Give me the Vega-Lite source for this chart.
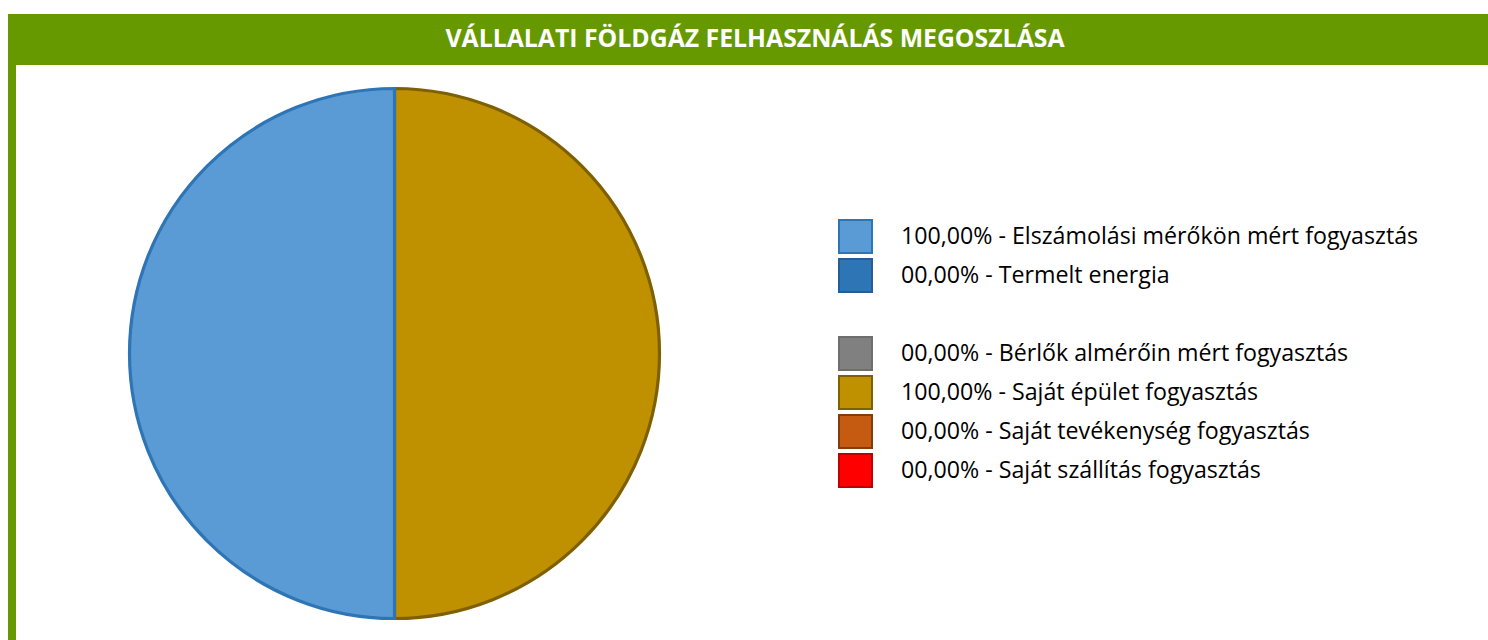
{
  "$schema": "https://vega.github.io/schema/vega-lite/v6.json",
  "padding": {"left": 8, "top": 14, "right": 0, "bottom": 0},
  "background": "white",
  "config": {"view": {"stroke": null}, "concat": {"spacing": 0}},
  "spacing": 0,
  "vconcat": [
    {
      "width": 1480,
      "height": 51,
      "view": {"fill": "#669900", "stroke": null},
      "data": {"values": [{"title": "VÁLLALATI FÖLDGÁZ FELHASZNÁLÁS MEGOSZLÁSA"}]},
      "mark": {"type": "text", "font": "Open Sans", "fontWeight": "bold", "fontSize": 24.8, "color": "white", "baseline": "middle", "align": "center", "dx": 7},
      "encoding": {"text": {"field": "title"}}
    },
    {
      "spacing": 0,
      "hconcat": [
        {
          "width": 8,
          "height": 577,
          "view": {"fill": "#669900", "stroke": null},
          "data": {"values": [{"t": ""}]},
          "mark": "text",
          "encoding": {"text": {"field": "t"}}
        },
        {
          "width": 757,
          "height": 577,
          "data": {"values": [
            {"cat": "100,00% - Saját épület fogyasztás", "value": 100},
            {"cat": "100,00% - Elszámolási mérőkön mért fogyasztás", "value": 100},
            {"cat": "00,00% - Termelt energia", "value": 0},
            {"cat": " ", "value": 0},
            {"cat": "00,00% - Bérlők almérőin mért fogyasztás", "value": 0},
            {"cat": "00,00% - Saját tevékenység fogyasztás", "value": 0},
            {"cat": "00,00% - Saját szállítás fogyasztás", "value": 0}
          ]},
          "transform": [{"filter": "datum.value > 0"}],
          "mark": {"type": "arc", "outerRadius": 265, "strokeWidth": 3.2},
          "encoding": {
            "theta": {"field": "value", "type": "quantitative", "stack": true, "scale": {"range": [3.14159265, 9.42477796]}},
            "fill": {
              "field": "cat", "type": "nominal",
              "scale": {
                "domain": ["100,00% - Elszámolási mérőkön mért fogyasztás", "00,00% - Termelt energia", " ", "00,00% - Bérlők almérőin mért fogyasztás", "100,00% - Saját épület fogyasztás", "00,00% - Saját tevékenység fogyasztás", "00,00% - Saját szállítás fogyasztás"],
                "range": ["#5B9BD5", "#2E75B6", "rgba(255,255,255,0)", "#808080", "#BF9000", "#C55A11", "#FF0000"]
              },
              "legend": {
                "orient": "none", "legendX": 830, "legendY": 205, "title": null,
                "symbolType": "square", "symbolSize": 1089, "symbolStrokeWidth": 2, "symbolOpacity": 1,
                "labelFont": "Open Sans", "labelFontSize": 23.2, "labelColor": "#000000", "labelOffset": 28,
                "labelLimit": 800, "rowPadding": -2
              }
            },
            "stroke": {
              "field": "cat", "type": "nominal",
              "scale": {
                "domain": ["100,00% - Elszámolási mérőkön mért fogyasztás", "00,00% - Termelt energia", " ", "00,00% - Bérlők almérőin mért fogyasztás", "100,00% - Saját épület fogyasztás", "00,00% - Saját tevékenység fogyasztás", "00,00% - Saját szállítás fogyasztás"],
                "range": ["#2E75B6", "#245E99", "rgba(255,255,255,0)", "#6E6E6E", "#7F6000", "#843C0C", "#C00000"]
              },
              "legend": {
                "orient": "none", "legendX": 830, "legendY": 205, "title": null,
                "symbolType": "square", "symbolSize": 1089, "symbolStrokeWidth": 2, "symbolOpacity": 1,
                "labelFont": "Open Sans", "labelFontSize": 23.2, "labelColor": "#000000", "labelOffset": 28,
                "labelLimit": 800, "rowPadding": -2
              }
            }
          }
        }
      ]
    }
  ]
}
